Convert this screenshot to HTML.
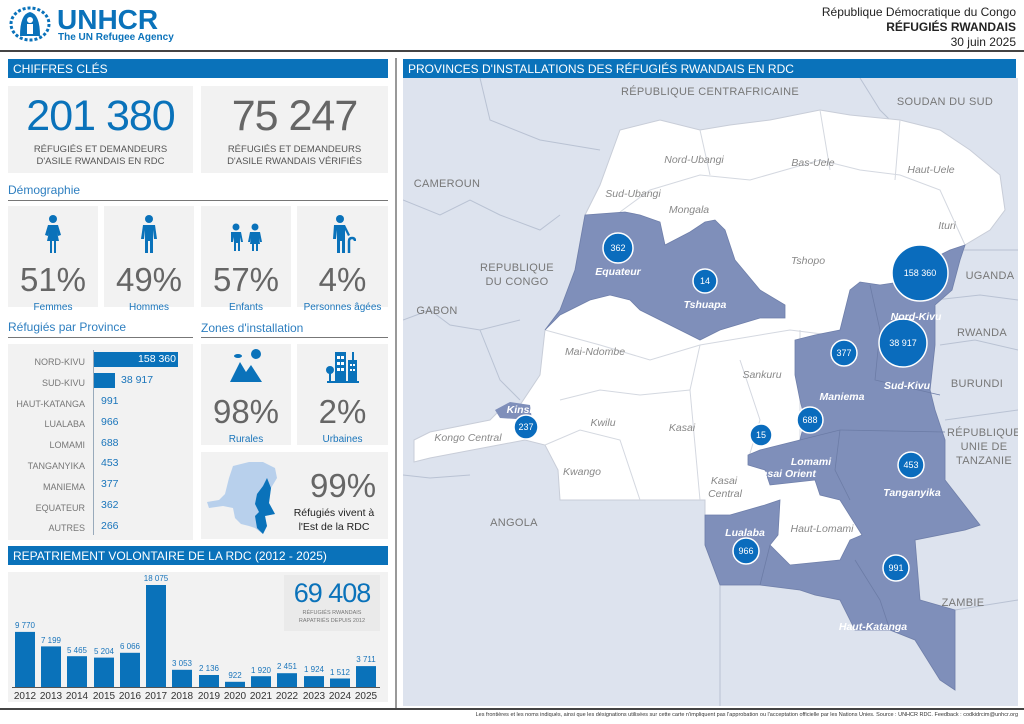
<!DOCTYPE html>
<html><head><meta charset="utf-8"><style>
*{margin:0;padding:0;box-sizing:border-box}
body{width:1024px;height:724px;background:#fff;font-family:"Liberation Sans",sans-serif;position:relative;overflow:hidden;color:#555}
.a{position:absolute}
.bar{background:#0a72ba;color:#fff;font-size:12px;padding:3px 0 0 5px}
.box{background:#f2f2f2}
.c{text-align:center}
.big{font-size:43px;letter-spacing:-1px;line-height:1}
.pct{font-size:33px;color:#666;line-height:1}
.lbl{font-size:10px;color:#1a75bb}
.sub{font-size:9.5px;color:#555;line-height:12px}
.h{font-size:12px;color:#2e7fc0}
.ln{height:1px;background:#777}
</style></head><body>
<svg class="a" style="left:8px;top:6px" width="44" height="36" viewBox="0 0 44 36">
<ellipse cx="22" cy="18" rx="19" ry="16" fill="none" stroke="#0a72ba" stroke-width="3" stroke-dasharray="3 2"/>
<path d="M12 30 Q12 8 22 6 Q32 8 32 30 Z" fill="#0a72ba"/>
<circle cx="22" cy="14" r="3" fill="#fff"/><rect x="19" y="18" width="6" height="10" fill="#fff"/>
</svg>
<div class="a" style="left:57px;top:4px;font-size:28px;font-weight:bold;color:#0a72ba">UNHCR</div>
<div class="a" style="left:58px;top:32px;font-size:10px;font-weight:bold;color:#0a72ba">The UN Refugee Agency</div>
<div class="a" style="right:8px;top:5px;font-size:12px;color:#222;text-align:right;line-height:15px">République Démocratique du Congo<br><b>RÉFUGIÉS RWANDAIS</b><br>30 juin 2025</div>
<div class="a" style="left:0;top:50px;width:1024px;height:2px;background:#444"></div>
<div class="a" style="left:395px;top:58px;width:2px;height:650px;background:#999"></div>
<div class="a" style="left:0;top:708px;width:1024px;height:2px;background:#444"></div>
<div class="a" style="right:6px;top:712px;font-size:5.5px;color:#333">Les frontières et les noms indiqués, ainsi que les désignations utilisées sur cette carte n'impliquent pas l'approbation ou l'acceptation officielle par les Nations Unies. Source : UNHCR RDC. Feedback : codkidrcim@unhcr.org</div>

<div class="a bar" style="left:8px;top:59px;width:380px;height:19px">CHIFFRES CLÉS</div>
<div class="a box c" style="left:8px;top:86px;width:185px;height:87px"><div class="big" style="color:#0a72ba;margin-top:9px">201 380</div><div class="sub" style="margin-top:6px">RÉFUGIÉS ET DEMANDEURS<br>D'ASILE RWANDAIS EN RDC</div></div>
<div class="a box c" style="left:201px;top:86px;width:187px;height:87px"><div class="big" style="color:#666;margin-top:9px">75 247</div><div class="sub" style="margin-top:6px">RÉFUGIÉS ET DEMANDEURS<br>D'ASILE RWANDAIS VÉRIFIÉS</div></div>
<div class="a h" style="left:8px;top:183px">Démographie</div>
<div class="a ln" style="left:8px;top:200px;width:380px"></div>

<div class="a box c" style="left:8px;top:206px;width:90px;height:101px"><svg width="20" height="38" style="margin-top:9px" viewBox="0 0 20 38"><circle cx="10" cy="4" r="4" fill="#0a72ba"/><path d="M5 10h10l3 10-3 1-1-4 2 9h-3v12h-2V26h-2v12H7V26H4l2-9-1 4-3-1z" fill="#0a72ba"/></svg><div class="pct" style="margin-top:5px">51%</div><div class="lbl" style="margin-top:6px">Femmes</div></div>
<div class="a box c" style="left:104px;top:206px;width:90px;height:101px"><svg width="20" height="38" style="margin-top:9px" viewBox="0 0 20 38"><circle cx="10" cy="4" r="4" fill="#0a72ba"/><path d="M4 10h12l2 14h-3l-1-9v23h-3V26H9v12H6V15l-1 9H2z" fill="#0a72ba"/></svg><div class="pct" style="margin-top:5px">49%</div><div class="lbl" style="margin-top:6px">Hommes</div></div>
<div class="a box c" style="left:201px;top:206px;width:90px;height:101px"><svg width="36" height="38" style="margin-top:9px" viewBox="0 0 36 38"><circle cx="8" cy="12" r="3.5" fill="#0a72ba"/><path d="M3 17h10l2 10h-2l-1-5v14h-2v-8H8v8H6V22l-1 5H3z" fill="#0a72ba"/><circle cx="27" cy="12" r="3.5" fill="#0a72ba"/><path d="M22 17h10l2 10h-2l-1-4 1 6h-2v7h-2v-7h-2v7h-2v-7h-2l1-6-1 4h-2z" fill="#0a72ba"/></svg><div class="pct" style="margin-top:5px">57%</div><div class="lbl" style="margin-top:6px">Enfants</div></div>
<div class="a box c" style="left:297px;top:206px;width:91px;height:101px"><svg width="26" height="38" style="margin-top:9px" viewBox="0 0 26 38"><circle cx="10" cy="4" r="4" fill="#0a72ba"/><path d="M4 10h11l5 10-2 1-3-6v23h-3V26h-2v12H7V15l-1 9H3z" fill="#0a72ba"/><path d="M19 38V26q0-3 3-3t3 3" stroke="#0a72ba" stroke-width="2.5" fill="none"/></svg><div class="pct" style="margin-top:5px">4%</div><div class="lbl" style="margin-top:6px">Personnes âgées</div></div>

<div class="a h" style="left:8px;top:320px">Réfugiés par Province</div>
<div class="a ln" style="left:8px;top:337px;width:185px"></div>
<div class="a h" style="left:201px;top:321px">Zones d'installation</div>
<div class="a ln" style="left:201px;top:337px;width:187px"></div>

<div class="a box" style="left:8px;top:344px;width:185px;height:196px"></div>
<div class="a" style="left:93px;top:350px;width:1px;height:185px;background:#9ab"></div>
<div class="a" style="left:8px;top:352px;width:77px;font-size:9px;color:#777;text-align:right;line-height:20.8px">NORD-KIVU<br>SUD-KIVU<br>HAUT-KATANGA<br>LUALABA<br>LOMAMI<br>TANGANYIKA<br>MANIEMA<br>EQUATEUR<br>AUTRES</div>
<div class="a" style="left:94px;top:352px;width:84px;height:15px;background:#0a72ba;color:#fff;font-size:10.5px;text-align:right;padding-right:2px;line-height:15px">158 360</div>
<div class="a" style="left:94px;top:373px;width:21px;height:15px;background:#0a72ba"></div>
<div class="a" style="left:121px;top:373px;font-size:10.5px;color:#1a75bb;line-height:15px">38 917</div>
<div class="a" style="left:101px;top:391px;font-size:10.5px;color:#1a75bb;line-height:20.8px">991<br>966<br>688<br>453<br>377<br>362<br>266</div>

<div class="a box c" style="left:201px;top:344px;width:90px;height:101px"><svg width="36" height="36" style="margin-top:4px" viewBox="0 0 36 36"><circle cx="28" cy="6" r="5" fill="#0a72ba"/><ellipse cx="10" cy="8" rx="4" ry="2" fill="#0a72ba"/><path d="M2 34L12 14l6 10 5-7 11 17z" fill="#0a72ba"/></svg><div class="pct" style="margin-top:6px">98%</div><div class="lbl" style="margin-top:6px">Rurales</div></div>
<div class="a box c" style="left:297px;top:344px;width:91px;height:101px"><svg width="36" height="36" style="margin-top:4px" viewBox="0 0 36 36"><rect x="10" y="4" width="11" height="30" fill="#0a72ba"/><rect x="23" y="12" width="9" height="22" fill="#0a72ba"/><rect x="27" y="4" width="2" height="8" fill="#0a72ba"/><circle cx="5" cy="22" r="4" fill="#0a72ba"/><rect x="4" y="24" width="2" height="10" fill="#0a72ba"/><rect x="2" y="33" width="32" height="2" fill="#0a72ba"/><g fill="#fff"><rect x="12" y="8" width="3" height="3"/><rect x="16" y="8" width="3" height="3"/><rect x="12" y="14" width="3" height="3"/><rect x="16" y="14" width="3" height="3"/><rect x="12" y="20" width="3" height="3"/><rect x="16" y="20" width="3" height="3"/><rect x="25" y="16" width="2" height="2"/><rect x="28" y="16" width="2" height="2"/><rect x="25" y="21" width="2" height="2"/><rect x="28" y="21" width="2" height="2"/></g></svg><div class="pct" style="margin-top:6px">2%</div><div class="lbl" style="margin-top:6px">Urbaines</div></div>

<div class="a box" style="left:201px;top:452px;width:187px;height:87px"></div>
<svg class="a" style="left:205px;top:458px" width="80" height="80" viewBox="0 0 80 80">
<path d="M2 44 L14 42 L20 36 L24 20 L28 8 L44 4 L58 4 L70 10 L72 20 L66 30 L64 45 L70 56 L60 58 L62 68 L58 76 L50 70 L44 68 L36 66 L30 60 L28 50 L18 48 L4 50Z" fill="#b8d0ec"/>
<path d="M62 20 L66 30 L64 45 L70 56 L60 58 L62 68 L58 76 L52 70 L50 58 L54 54 L50 46 L52 36 L58 28Z" fill="#0a72ba"/>
</svg>
<div class="a pct" style="left:310px;top:469px;font-size:33px">99%</div>
<div class="a c" style="left:286px;top:506px;width:96px;font-size:10.5px;color:#222;line-height:14px">Réfugiés vivent à<br>l'Est de la RDC</div>

<div class="a bar" style="left:8px;top:546px;width:380px;height:19px">REPATRIEMENT VOLONTAIRE DE LA RDC (2012 - 2025)</div>
<div class="a box" style="left:8px;top:572px;width:380px;height:130px"></div>
<div class="a box c" style="left:284px;top:575px;width:96px;height:56px;background:#eaeaea"><div style="font-size:27px;color:#0a72ba;letter-spacing:-1px;margin-top:3px">69 408</div><div style="font-size:5.5px;color:#777;line-height:8px">RÉFUGIÉS RWANDAIS<br>RAPATRIÉS DEPUIS 2012</div></div>
<svg class="a" style="left:0;top:570px" width="395" height="135">
<g fill="#0a72ba">
<rect x="15" y="61.9" width="20" height="55.1"/><rect x="41" y="76.4" width="20" height="40.6"/><rect x="67" y="86.2" width="20" height="30.8"/><rect x="94" y="87.6" width="20" height="29.4"/><rect x="120" y="82.8" width="20" height="34.2"/><rect x="146" y="15" width="20" height="102"/><rect x="172" y="99.8" width="20" height="17.2"/><rect x="199" y="105" width="20" height="12"/><rect x="225" y="111.8" width="20" height="5.2"/><rect x="251" y="106.2" width="20" height="10.8"/><rect x="277" y="103.2" width="20" height="13.8"/><rect x="304" y="106.1" width="20" height="10.9"/><rect x="330" y="108.5" width="20" height="8.5"/><rect x="356" y="96.1" width="20" height="20.9"/>
</g>
<rect x="12" y="117" width="368" height="1" fill="#555"/>
<g font-size="8" fill="#1a75bb" text-anchor="middle">
<text x="25" y="58">9 770</text><text x="51" y="73">7 199</text><text x="77" y="83">5 465</text><text x="104" y="84">5 204</text><text x="130" y="79">6 066</text><text x="156" y="11">18 075</text><text x="182" y="96">3 053</text><text x="209" y="101">2 136</text><text x="235" y="108">922</text><text x="261" y="103">1 920</text><text x="287" y="99">2 451</text><text x="314" y="102">1 924</text><text x="340" y="105">1 512</text><text x="366" y="92">3 711</text>
</g>
<g font-size="10" fill="#333" text-anchor="middle">
<text x="25" y="129">2012</text><text x="51" y="129">2013</text><text x="77" y="129">2014</text><text x="104" y="129">2015</text><text x="130" y="129">2016</text><text x="156" y="129">2017</text><text x="182" y="129">2018</text><text x="209" y="129">2019</text><text x="235" y="129">2020</text><text x="261" y="129">2021</text><text x="287" y="129">2022</text><text x="314" y="129">2023</text><text x="340" y="129">2024</text><text x="366" y="129">2025</text>
</g>
</svg>

<div class="a bar" style="left:403px;top:59px;width:613px;height:19px">PROVINCES D'INSTALLATIONS DES RÉFUGIÉS RWANDAIS EN RDC</div>
<svg class="a" style="left:403px;top:78px" width="615" height="628" viewBox="403 78 615 628">
<rect x="403" y="78" width="615" height="628" fill="#dde3ee"/>
<g fill="none" stroke="#b9c2d3" stroke-width="1">
<path d="M403 200 L440 215 L470 200 L500 215 L540 230 L560 215"/><path d="M403 320 L430 310 L450 325 L480 330 L520 320"/><path d="M480 330 L500 380 L520 400"/><path d="M480 78 L490 120 L540 140 L600 150"/><path d="M860 78 L880 110 L890 120"/><path d="M940 250 L1018 250"/><path d="M935 300 L980 295 L1018 300"/><path d="M940 345 L975 340 L1018 350"/><path d="M945 420 L1018 410"/><path d="M720 585 L720 706"/><path d="M955 610 L1018 600"/><path d="M403 475 L430 478 L470 475"/>
</g>
<path d="M414 440 L430 432 L490 420 L500 410 L520 405 L540 375 L545 330 L560 310 L575 270 L585 215 L600 185 L620 130 L660 120 L700 130 L730 125 L770 120 L820 110 L850 115 L900 120 L940 130 L970 150 L1000 175 L1005 210 L990 230 L965 245 L960 260 L952 290 L935 305 L935 345 L930 390 L935 410 L945 440 L945 480 L980 525 L965 530 L915 540 L920 600 L955 610 L955 690 L940 680 L915 640 L890 630 L855 630 L840 600 L815 595 L800 590 L760 585 L720 585 L705 545 L705 500 L620 500 L560 500 L558 470 L545 445 L525 440 L430 458 L414 462Z" fill="#fff" stroke="#c8cdd8"/>
<g fill="none" stroke="#d4d8e0" stroke-width="1">
<path d="M620 212 L650 190 L700 175 L750 180 L820 160 L860 170 L900 175 L940 190 L965 245"/><path d="M700 130 L710 175"/><path d="M820 110 L830 170"/><path d="M900 120 L895 180"/><path d="M545 330 L600 345 L650 360 L700 345 L790 330 L830 335"/><path d="M800 330 L800 440"/><path d="M700 345 L690 390 L700 500"/><path d="M560 400 L600 390 L640 395 L690 390"/><path d="M545 445 L580 430 L620 440 L640 500"/><path d="M740 360 L760 420 L748 460"/>
</g>
<path d="M545 330 L560 310 L575 270 L585 215 L625 212 L640 215 L660 222 L665 245 L690 232 L705 222 L715 220 L725 230 L735 260 L760 290 L785 305 L785 318 L760 318 L720 330 L700 340 L690 335 L660 320 L640 310 L630 300 L610 295 L590 300 L560 315Z" fill="#7f8fba" stroke="#6f7faa" stroke-width=".8"/>
<path d="M495 410 L510 402 L530 405 L532 420 L500 418Z" fill="#7f8fba"/>
<path d="M965 245 L960 260 L952 290 L935 305 L935 345 L930 390 L935 410 L945 440 L945 480 L980 525 L965 530 L915 540 L920 600 L955 610 L955 690 L940 680 L915 640 L890 630 L855 630 L840 600 L815 595 L800 590 L760 585 L720 585 L705 545 L705 515 L730 515 L765 505 L780 500 L778 535 L770 545 L790 565 L840 560 L850 540 L862 535 L840 500 L820 495 L815 480 L770 485 L765 470 L748 465 L748 455 L760 450 L780 445 L800 440 L805 420 L800 400 L795 375 L795 340 L815 335 L840 330 L850 290 L860 282 L880 285 L900 282 L930 260 L950 250Z" fill="#7f8fba" stroke="#6f7faa" stroke-width=".8"/>
<g fill="none" stroke="#6c7ca6" stroke-width=".8">
<path d="M870 285 L880 330 L875 380 L940 395"/><path d="M840 430 L945 432"/><path d="M840 430 L835 470 L850 500"/><path d="M800 440 L840 430"/><path d="M760 585 L770 545"/><path d="M855 560 L880 600 L890 630"/>
</g>
<g font-size="11" fill="#777" text-anchor="middle" style="letter-spacing:.3px">
<text x="710" y="95">RÉPUBLIQUE CENTRAFRICAINE</text><text x="945" y="105">SOUDAN DU SUD</text><text x="447" y="187">CAMEROUN</text><text x="517" y="271">REPUBLIQUE</text><text x="517" y="285">DU CONGO</text><text x="437" y="314">GABON</text><text x="990" y="279">UGANDA</text><text x="982" y="336">RWANDA</text><text x="977" y="387">BURUNDI</text><text x="984" y="436">RÉPUBLIQUE</text><text x="984" y="450">UNIE DE</text><text x="984" y="464">TANZANIE</text><text x="514" y="526">ANGOLA</text><text x="963" y="606">ZAMBIE</text>
</g>
<g font-size="10.5" fill="#888" font-style="italic" text-anchor="middle">
<text x="694" y="163">Nord-Ubangi</text><text x="813" y="166">Bas-Uele</text><text x="931" y="173">Haut-Uele</text><text x="633" y="197">Sud-Ubangi</text><text x="689" y="213">Mongala</text><text x="947" y="229">Ituri</text><text x="808" y="264">Tshopo</text><text x="595" y="355">Mai-Ndombe</text><text x="762" y="378">Sankuru</text><text x="603" y="426">Kwilu</text><text x="682" y="431">Kasai</text><text x="468" y="441">Kongo Central</text><text x="582" y="475">Kwango</text><text x="724" y="484">Kasai</text><text x="725" y="497">Central</text><text x="822" y="532">Haut-Lomami</text>
</g>
<g fill="#0a6cbd" stroke="#fff" stroke-width="1.5">
<circle cx="618" cy="248" r="15"/><circle cx="705" cy="281" r="12"/><circle cx="526" cy="427" r="12"/><circle cx="920" cy="273" r="28"/><circle cx="903" cy="343" r="24"/><circle cx="844" cy="353" r="13"/><circle cx="810" cy="420" r="13"/><circle cx="761" cy="435" r="11"/><circle cx="911" cy="465" r="13"/><circle cx="746" cy="551" r="13"/><circle cx="896" cy="568" r="13"/>
</g>
<g font-size="10.5" fill="#fff" font-style="italic" font-weight="bold" text-anchor="middle">
<text x="618" y="275">Equateur</text><text x="705" y="308">Tshuapa</text><text x="530" y="413">Kinshasa</text><text x="916" y="320">Nord-Kivu</text><text x="907" y="389">Sud-Kivu</text><text x="842" y="400">Maniema</text><text x="811" y="465">Lomami</text><text x="785" y="477">Kasai Orient</text><text x="912" y="496">Tanganyika</text><text x="745" y="536">Lualaba</text><text x="873" y="630">Haut-Katanga</text>
</g>
<g font-size="9" fill="#fff" text-anchor="middle">
<text x="618" y="251">362</text><text x="705" y="284">14</text><text x="526" y="430">237</text><text x="920" y="276">158 360</text><text x="903" y="346">38 917</text><text x="844" y="356">377</text><text x="810" y="423">688</text><text x="761" y="438">15</text><text x="911" y="468">453</text><text x="746" y="554">966</text><text x="896" y="571">991</text>
</g>
</svg>
</body></html>
